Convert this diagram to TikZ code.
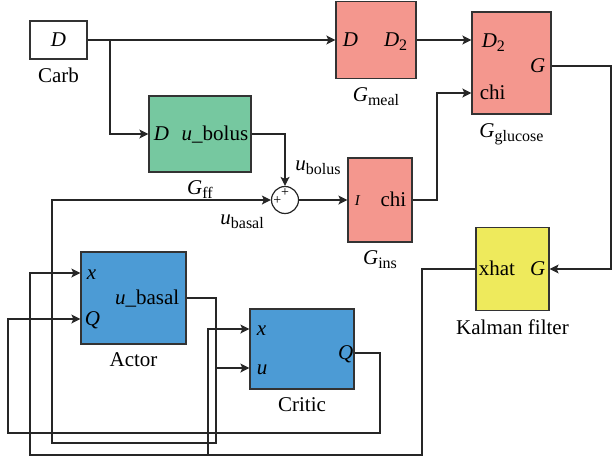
\documentclass[tikz,border=0pt]{standalone}
\usepackage{fontspec}
\setmainfont{Liberation Serif}
\usetikzlibrary{arrows.meta,positioning}
\definecolor{plantred}{HTML}{F4978E}
\definecolor{ffgreen}{HTML}{76C8A0}
\definecolor{rlblue}{HTML}{4C9BD5}
\definecolor{kfyellow}{HTML}{EEEA5C}
\newcommand{\lowsub}[1]{\raisebox{-2pt}{\fontsize{8}{9}\selectfont #1}}
\begin{document}
\begin{tikzpicture}[x=0.5pt,y=-0.5pt,
font=\fontsize{10.5}{12.6}\selectfont,
>={Stealth[length=4.5pt,width=4.5pt,inset=1pt]},
block/.style={
rectangle,
draw=black!80,
line width=0.6pt,
inner sep=0pt
},
port/.style={inner sep=0pt,text height=6.6pt,text depth=0pt},
tag/.style={inner sep=0pt},
wire/.style={line width=0.6pt,draw=black!85},
]
\useasboundingbox (0,0) rectangle (613,460);

\node (carb) [block,fill=white,minimum width=28.5pt,minimum height=19pt] at (58.5,40) {\textit{D}};
\node (carblabel) [tag,below=4pt of carb] {Carb};

\node (gmeal) [block,fill=plantred,minimum width=40pt,minimum height=38.5pt] at (376,40) {};
\node (gmealin) [port,anchor=west] at ([xshift=3.5pt]gmeal.west) {\textit{D}};
\node (gmealout) [port,anchor=east] at ([xshift=-4.5pt]gmeal.east) {\textit{D}\lowsub{2}};
\node (gmeallabel) [tag,below=4pt of gmeal] {\textit{G}\lowsub{meal}};

\node (gluc) [block,fill=plantred,minimum width=39.5pt,minimum height=51pt] at (511.5,63) {};
\node (glucd) [port,anchor=west] at ([xshift=5pt,yshift=11pt]gluc.west) {\textit{D}\lowsub{2}};
\node (glucg) [port,anchor=east] at ([xshift=-3pt,yshift=-1.5pt]gluc.east) {\textit{G}};
\node (glucchi) [port,anchor=west] at ([xshift=4pt,yshift=-15pt]gluc.west) {chi};
\node (gluclabel) [tag,below=4.5pt of gluc] {\textit{G}\lowsub{glucose}};

\node (gff) [block,fill=ffgreen,minimum width=51pt,minimum height=38pt] at (200,134) {};
\node (gffin) [port,anchor=west] at ([xshift=2.5pt]gff.west) {\textit{D}};
\node (gffout) [port,anchor=east] at ([xshift=-1.5pt]gff.east) {\textit{u}\_bolus};
\node (gfflabel) [tag,below=4pt of gff] {\textit{G}\lowsub{ff}};

\node (sum) [circle,draw=black!85,line width=0.6pt,fill=white,minimum size=13.5pt,inner sep=0pt] at (285,200) {};
\node (plustop) [inner sep=0pt,font=\fontsize{7}{8}\selectfont] at ([yshift=3.8pt]sum.center) {+};
\node (plusleft) [inner sep=0pt,font=\fontsize{7}{8}\selectfont] at ([xshift=-3.8pt,yshift=-0.5pt]sum.center) {+};
\node (ubolus) [tag,anchor=base west] at (295,170) {\textit{u}\lowsub{bolus}};
\node (ubasal) [tag,anchor=base west] at (220,224) {\textit{u}\lowsub{basal}};

\node (gins) [block,fill=plantred,minimum width=32pt,minimum height=42pt] at (380,200) {};
\node (ginsin) [port,anchor=west,font=\fontsize{7.5}{9}\selectfont,text height=5pt] at ([xshift=3.5pt]gins.west) {\textit{I}};
\node (ginsout) [port,anchor=east] at ([xshift=-3pt]gins.east) {chi};
\node (ginslabel) [tag,below=4pt of gins] {\textit{G}\lowsub{ins}};

\node (kalman) [block,fill=kfyellow,minimum width=36.5pt,minimum height=41.5pt] at (512.5,269) {};
\node (kalmanin) [port,anchor=east] at ([xshift=-2pt]kalman.east) {\textit{G}};
\node (kalmanout) [port,anchor=west] at ([xshift=1.5pt]kalman.west) {xhat};
\node (kalmanlabel) [tag,below=4pt of kalman] {Kalman filter};

\node (actor) [block,fill=rlblue,minimum width=52.5pt,minimum height=46pt] at (133.5,298) {};
\node (actorx) [port,anchor=west] at ([xshift=3pt,yshift=12.5pt]actor.west) {\textit{x}};
\node (actorq) [port,anchor=west] at ([xshift=2pt,yshift=-10.5pt]actor.west) {\textit{Q}};
\node (actoru) [port,anchor=east] at ([xshift=-3.5pt]actor.east) {\textit{u}\_basal};
\node (actorlabel) [tag,below=4pt of actor] {Actor};

\node (critic) [block,fill=rlblue,minimum width=52pt,minimum height=40pt] at (302,349) {};
\node (criticx) [port,anchor=west] at ([xshift=3.5pt,yshift=10pt]critic.west) {\textit{x}};
\node (criticu) [port,anchor=west] at ([xshift=3.5pt,yshift=-9.5pt]critic.west) {\textit{u}};
\node (criticq) [port,anchor=east] at ([xshift=-0.5pt,yshift=-2pt]critic.east) {\textit{Q}};
\node (criticlabel) [tag,below=4pt of critic] {Critic};

\coordinate (carbsplit) at (110,40);
\coordinate (chibend) at (437,93);
\coordinate (gbend) at (611,269);
\coordinate (xhatbend) at (422,455);
\coordinate (xhatleft) at (30,273);
\coordinate (xhatsplit) at (208,455);
\coordinate (qbend) at (380,433);
\coordinate (qleft) at (8,319);
\coordinate (ubend) at (216,443);
\coordinate (uleft) at (52,200);
\coordinate (usplit) at (216,368);

\draw[wire,->] (carb.east) -- (carb.east -| gmeal.west);
\draw[wire,->] (carbsplit) |- (gff.west);
\draw[wire,->] (gmeal.east) -- (gmeal.east -| gluc.west);
\draw[wire,->] (gff.east) -| (sum.north);
\draw[wire,->] (sum.east) -- (sum.east -| gins.west);
\draw[wire,->] (gins.east) -| (chibend) -- (chibend -| gluc.west);
\draw[wire,->] (gluc.east |- glucg) -| (gbend) -- (kalman.east);
\draw[wire,->] (kalman.west) -| (xhatbend) -| (xhatleft) -- (xhatleft -| actor.west);
\draw[wire,->] (xhatsplit) |- (critic.west |- criticx);
\draw[wire,->] (critic.east |- criticq) -| (qbend) -| (qleft) -- (qleft -| actor.west);
\draw[wire,->] (actor.east) -| (ubend) -| (uleft) -- (sum.west);
\draw[wire,->] (usplit) -- (usplit -| critic.west);
\end{tikzpicture}
\end{document}
